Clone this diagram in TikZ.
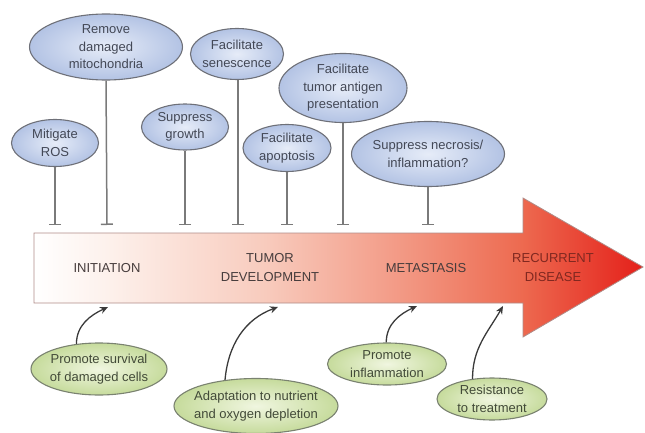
\documentclass[tikz,border=0pt]{standalone}
\usepackage{fontspec}
\setmainfont{Liberation Sans}
\usetikzlibrary{shapes.geometric,arrows.meta}
\definecolor{blueIn}{HTML}{E6ECF8}
\definecolor{blueOut}{HTML}{B3C3E4}
\definecolor{greenIn}{HTML}{F0F6E0}
\definecolor{greenOut}{HTML}{C6DB9C}
\definecolor{ellBorder}{HTML}{6E7078}
\definecolor{grnBorder}{HTML}{7A8270}
\definecolor{topText}{HTML}{434856}
\definecolor{botText}{HTML}{424A38}
\definecolor{inhibCol}{HTML}{7A7A7A}
\definecolor{promoCol}{HTML}{3A3A3A}
\definecolor{arrA}{HTML}{FDF1EC}
\definecolor{arrB}{HTML}{F8CBBD}
\definecolor{arrC}{HTML}{F29580}
\definecolor{arrD}{HTML}{ED6A50}
\definecolor{arrE}{HTML}{E4201A}
\definecolor{arrLine}{HTML}{B08C88}
\definecolor{stageText}{HTML}{463C3C}
\definecolor{recText}{HTML}{802820}
\pgfdeclarehorizontalshading{arrowshade}{100bp}{color(0bp)=(white); color(25bp)=(white); color(31bp)=(arrA); color(44bp)=(arrB); color(56bp)=(arrC); color(65bp)=(arrD); color(75bp)=(arrE); color(100bp)=(arrE)}
\begin{document}
\begin{tikzpicture}[x=1pt,y=1pt,
  topell/.style={ellipse, draw=ellBorder, line width=1.1pt, inner color=blueIn, outer color=blueOut, inner sep=0pt},
  botell/.style={ellipse, draw=grnBorder, line width=1.1pt, inner color=greenIn, outer color=greenOut, inner sep=0pt},
  ttxt/.style={text=topText, align=center, inner sep=0pt, font=\fontsize{13}{17.5}\selectfont},
  btxt/.style={text=botText, align=center, inner sep=0pt, font=\fontsize{13}{18}\selectfont},
  stage/.style={text=stageText, align=center, inner sep=0pt, font=\fontsize{13}{19}\selectfont},
  inhib/.style={draw=inhibCol, line width=1.5pt, -{Bar[width=12pt,line width=1.5pt]}},
  promo/.style={draw=promoCol, line width=1.3pt, -{Stealth[length=8pt,width=7pt]}}
]
\useasboundingbox (0,0) rectangle (645,432);
% big arrow
\path[draw=arrLine, line width=0.8pt, shading=arrowshade, shade]
  (34,199) -- (523,199) -- (523,234) -- (643,165) -- (523,95) -- (523,129) -- (34,129) -- cycle;
\node[stage] (ini) at (107,164) {INITIATION};
\node[stage] (tum) at (270,164) {TUMOR\\DEVELOPMENT};
\node[stage] (met) at (426,164) {METASTASIS};
\node[stage, text=recText] (rec) at (553,164) {RECURRENT\\DISEASE};
% top ellipses
\node[topell, minimum width=87pt, minimum height=47pt] (ros) at (55,289) {};
\node[ttxt] (rosT) at (ros) {Mitigate\\ROS};
\node[topell, minimum width=153pt, minimum height=66pt] (rdm) at (106,385) {};
\node[ttxt] (rdmT) at (rdm) {Remove\\damaged\\mitochondria};
\node[topell, minimum width=87pt, minimum height=46pt] (sg) at (185,305) {};
\node[ttxt] (sgT) at (sg) {Suppress\\growth};
\node[topell, minimum width=93pt, minimum height=51pt] (sen) at (237,378) {};
\node[ttxt] (senT) at (sen) {Facilitate\\senescence};
\node[topell, minimum width=88pt, minimum height=47pt] (apo) at (287,284) {};
\node[ttxt] (apoT) at (apo) {Facilitate\\apoptosis};
\node[topell, minimum width=128pt, minimum height=69pt] (tap) at (343,344) {};
\node[ttxt] (tapT) at (tap) {Facilitate\\tumor antigen\\presentation};
\node[topell, minimum width=153pt, minimum height=65pt] (nec) at (428,278) {};
\node[ttxt] (necT) at (nec) {Suppress necrosis/\\inflammation?};
% inhibition end points
\coordinate (t1) at (55,207);
\coordinate (t2) at (107,207);
\coordinate (t3) at (185,207);
\coordinate (t4) at (238,207);
\coordinate (t5) at (287,207);
\coordinate (t6) at (343,207);
\coordinate (t7) at (428,207);
\draw[inhib] (ros.south) -- (t1);
\draw[inhib] (rdm.south) -- (t2);
\draw[inhib] (sg.south) -- (t3);
\draw[inhib] (sen.south -| t4) -- (t4);
\draw[inhib] (apo.south) -- (t5);
\draw[inhib] (tap.south) -- (t6);
\draw[inhib] (nec.south) -- (t7);
% bottom ellipses
\node[botell, minimum width=136pt, minimum height=52pt] (ps) at (99,63) {};
\node[btxt] (psT) at (ps) {Promote survival\\of damaged cells};
\node[botell, minimum width=164pt, minimum height=55pt] (ada) at (256,26) {};
\node[btxt] (adaT) at (ada) {Adaptation to nutrient\\and oxygen depletion};
\node[botell, minimum width=119pt, minimum height=42pt] (pi) at (387,68) {};
\node[btxt] (piT) at (pi) {Promote\\inflammation};
\node[botell, minimum width=110pt, minimum height=42pt] (rt) at (492,33) {};
\node[btxt] (rtT) at (rt) {Resistance\\to treatment};
\coordinate (a1) at (108,125);
\coordinate (a2) at (278,125);
\coordinate (a3) at (417,126);
\coordinate (a4) at (503,126);
\draw[promo] (ps.132) to[out=90,in=205] (a1);
\draw[promo] (ada.140) to[out=85,in=200] (a2);
\draw[promo] (pi.92) to[out=90,in=205] (a3);
\draw[promo] (rt.134) to[out=90,in=240] (a4);
\end{tikzpicture}
\end{document}
